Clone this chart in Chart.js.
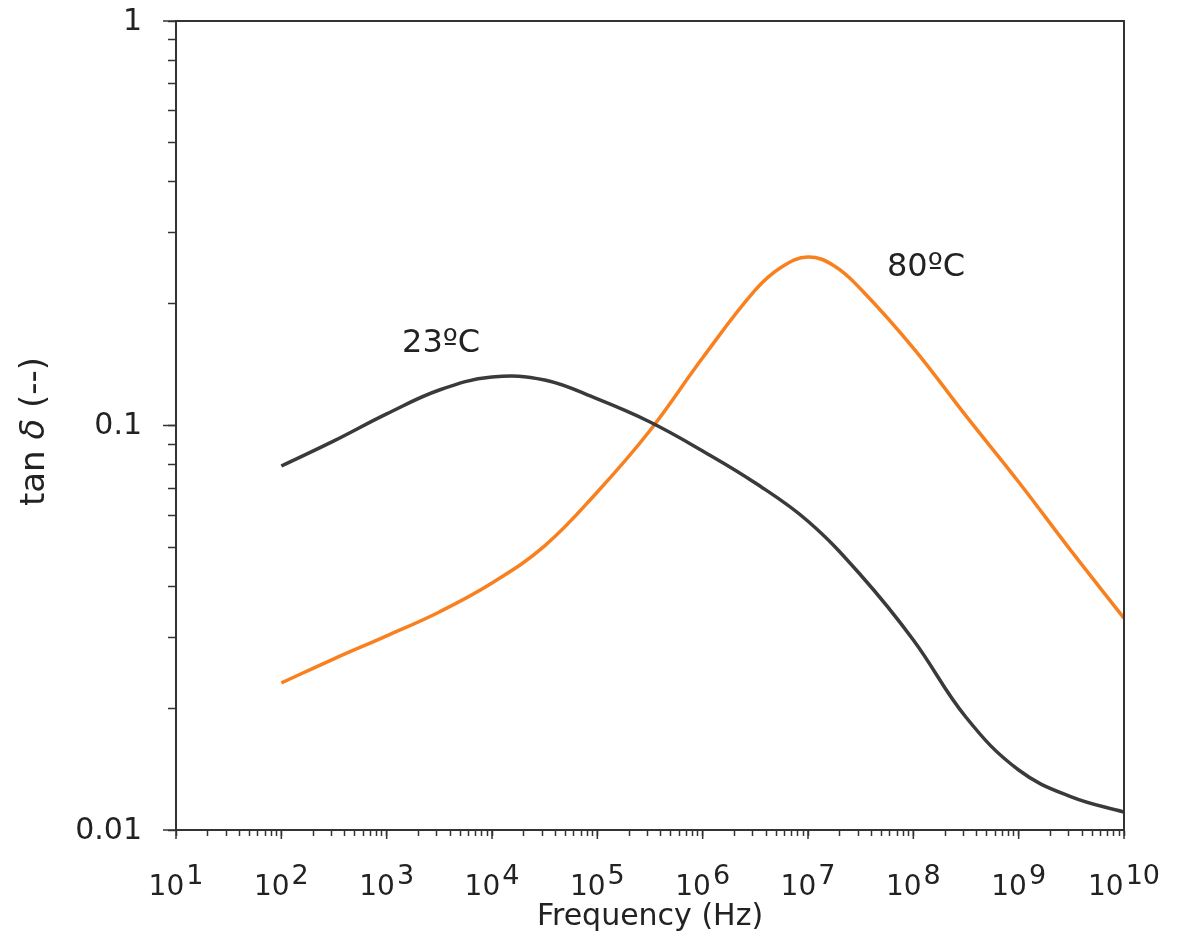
<!DOCTYPE html>
<html>
<head>
<meta charset="utf-8">
<script src="https://cdn.jsdelivr.net/npm/chart.js@4"></script>
<style>
html,body{margin:0;padding:0;background:#fff;}
#wrap{width:1190px;height:941px;}
</style>
</head>
<body>
<div id="wrap"><canvas id="c" width="1190" height="941"></canvas></div>
<script>
// ---- data (half-decade readings) ----
const freq23 = [1e2, 316, 1e3, 3162, 1e4, 31623, 1e5, 316228, 1e6, 3162278, 1e7, 31622777, 1e8, 316227766, 1e9, 3162277660, 1e10];
const tan23  = [0.0794, 0.0916, 0.1068, 0.1224, 0.1318, 0.1296, 0.1163, 0.1020, 0.0865, 0.0721, 0.0580, 0.0427, 0.0295, 0.0190, 0.01407, 0.01207, 0.01107];

const freq80 = [1e2, 316, 1e3, 3162, 1e4, 31623, 1e5, 316228, 1e6, 3162278, 5623413, 1e7, 17782794, 31622777, 1e8, 316227766, 1e9, 3162277660, 1e10];
const tan80  = [0.0231, 0.0265, 0.0302, 0.0346, 0.0408, 0.0504, 0.0685, 0.0972, 0.1470, 0.2163, 0.2465, 0.2610, 0.2480, 0.2175, 0.1554, 0.1056, 0.0725, 0.0489, 0.0334];

const seriesLabels = ['23ºC', '80ºC'];
const seriesColors = ['#3a3a3a', '#f8801f'];
const labelFreq = [1400, 5.62e7];
const labelTan  = [0.159, 0.245];

const xMajorTicks = [1e1, 1e2, 1e3, 1e4, 1e5, 1e6, 1e7, 1e8, 1e9, 1e10];
const xExponents  = ['1', '2', '3', '4', '5', '6', '7', '8', '9', '10'];
const yMajorTicks = [0.01, 0.1, 1];
const yTickLabels = ['0.01', '0.1', '1'];
const minorMultipliers = [2, 3, 4, 5, 6, 7, 8, 9];

const xTitle = 'Frequency (Hz)';
const yTitleParts = [['tan ', 'normal'], ['δ', 'italic'], [' (--)', 'normal']];

// ---- helpers ----
function withMinors(majors) {
  const out = [];
  majors.forEach((m, i) => {
    out.push(m);
    if (i < majors.length - 1) minorMultipliers.forEach(k => out.push(m * k));
  });
  return out;
}
const xTickValues = withMinors(xMajorTicks);
const yTickValues = withMinors(yMajorTicks);

const FONT = '"DejaVu Sans", Verdana, sans-serif';
const AXIS = '#333333';
const TEXT = '#222222';
Chart.defaults.font.family = FONT;

const decor = {
  id: 'decor',
  afterDraw(chart) {
    const {ctx, chartArea: a, scales: {x, y}} = chart;
    ctx.save();
    // frame
    ctx.strokeStyle = AXIS;
    ctx.lineWidth = 2;
    ctx.strokeRect(a.left, a.top, a.right - a.left, a.bottom - a.top);
    // longer major ticks
    ctx.lineWidth = 1.5;
    xMajorTicks.forEach(v => {
      const px = x.getPixelForValue(v);
      ctx.beginPath(); ctx.moveTo(px, a.bottom); ctx.lineTo(px, a.bottom + 9); ctx.stroke();
    });
    yMajorTicks.forEach(v => {
      const py = y.getPixelForValue(v);
      ctx.beginPath(); ctx.moveTo(a.left - 13, py); ctx.lineTo(a.left, py); ctx.stroke();
    });
    ctx.fillStyle = TEXT;
    // y tick labels
    ctx.font = '30px ' + FONT;
    ctx.textAlign = 'right';
    ctx.textBaseline = 'middle';
    yMajorTicks.forEach((v, i) => {
      ctx.fillText(yTickLabels[i], a.left - 34, y.getPixelForValue(v) + 1);
    });
    // x tick labels with superscripts
    ctx.textAlign = 'left';
    ctx.textBaseline = 'alphabetic';
    const baseFont = '28px ' + FONT;
    const expFont = '27px ' + FONT;
    xMajorTicks.forEach((v, i) => {
      ctx.font = baseFont;
      const wb = ctx.measureText('10').width;
      ctx.font = expFont;
      const we = ctx.measureText(xExponents[i]).width;
      const px = x.getPixelForValue(v);
      const x0 = px - (wb + 2 + we) / 2;
      ctx.font = baseFont;
      ctx.fillText('10', x0, a.bottom + 65);
      ctx.font = expFont;
      ctx.fillText(xExponents[i], x0 + wb + 2, a.bottom + 54);
    });
    // series annotations
    ctx.font = '32px ' + FONT;
    ctx.textBaseline = 'middle';
    seriesLabels.forEach((t, i) => {
      ctx.fillText(t, x.getPixelForValue(labelFreq[i]), y.getPixelForValue(labelTan[i]));
    });
    // y title (rotated, italic delta)
    ctx.translate(35, (a.top + a.bottom) / 2 + 6);
    ctx.rotate(-Math.PI / 2);
    const tf = st => (st === 'italic' ? 'italic ' : '') + '34px ' + FONT;
    let total = 0;
    yTitleParts.forEach(([t, st]) => { ctx.font = tf(st); total += ctx.measureText(t).width; });
    let cx = -total / 2;
    yTitleParts.forEach(([t, st]) => {
      ctx.font = tf(st);
      ctx.fillText(t, cx, 0);
      cx += ctx.measureText(t).width;
    });
    ctx.restore();
  }
};

const toPts = (xs, ys) => xs.map((v, i) => ({x: v, y: ys[i]}));

new Chart(document.getElementById('c'), {
  type: 'line',
  data: {
    datasets: [
      {label: seriesLabels[0], data: toPts(freq23, tan23), borderColor: seriesColors[0], borderWidth: 3.5,
       pointRadius: 0, tension: 0.4, fill: false},
      {label: seriesLabels[1], data: toPts(freq80, tan80), borderColor: seriesColors[1], borderWidth: 3.5,
       pointRadius: 0, tension: 0.4, fill: false}
    ]
  },
  options: {
    responsive: false,
    animation: false,
    events: [],
    layout: {padding: {left: 0, right: 66, top: 21, bottom: 0}},
    plugins: {legend: {display: false}, tooltip: {enabled: false}},
    scales: {
      x: {
        type: 'logarithmic', position: 'bottom', min: 1e1, max: 1e10,
        afterBuildTicks: s => { s.ticks = xTickValues.map(v => ({value: v})); },
        afterFit: s => { s.height = 111; },
        ticks: {display: false},
        grid: {drawOnChartArea: false, drawTicks: true, tickLength: 6, tickColor: AXIS, tickWidth: 1.5},
        border: {display: true, color: AXIS, width: 2},
        title: {display: true, text: xTitle, color: TEXT, font: {size: 30, family: FONT}, padding: {top: 0, bottom: 6}}
      },
      y: {
        type: 'logarithmic', position: 'left', min: 0.01, max: 1,
        afterBuildTicks: s => { s.ticks = yTickValues.map(v => ({value: v})); },
        afterFit: s => { s.width = 176; },
        ticks: {display: false},
        grid: {drawOnChartArea: false, drawTicks: true, tickLength: 8, tickColor: AXIS, tickWidth: 1.5},
        border: {display: true, color: AXIS, width: 2}
      }
    }
  },
  plugins: [decor]
});
</script>
</body>
</html>
